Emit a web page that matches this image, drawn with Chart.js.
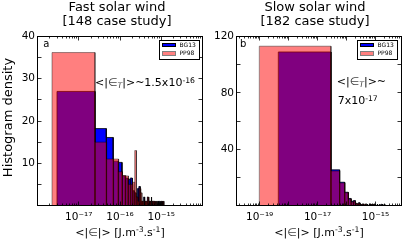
<!DOCTYPE html>
<html><head><meta charset="utf-8">
<script src="https://cdn.jsdelivr.net/npm/chart.js@4.4.1/dist/chart.umd.min.js"></script>
<style>
html,body{margin:0;padding:0;background:#fff;}
body{width:415px;height:240px;position:relative;overflow:hidden;font-family:"DejaVu Sans",sans-serif;color:#000;}
canvas{position:absolute;top:0;}
.t{position:absolute;white-space:nowrap;line-height:1;}
.c{text-align:center;width:240px;}
.sup{font-size:70%;position:relative;top:-0.45em;}
.sub{font-size:70%;position:relative;top:0.25em;font-style:italic;}
.eps{color:#444;}
.leg{position:absolute;width:39px;height:18px;border:1px solid #000;background:#fff;}
.sw{position:absolute;width:12px;height:2.5px;left:1.5px;}
.lt{position:absolute;left:19.5px;font-size:6px;line-height:1;white-space:nowrap;}
</style></head>
<body>
<canvas id="cFast" width="210" height="240" style="left:0px"></canvas>
<canvas id="cSlow" width="205" height="240" style="left:210px"></canvas>

<div class="t c" style="font-size:13px;left:-3px;top:0.2px">Fast solar wind</div>
<div class="t c" style="font-size:13px;left:-3px;top:14px">[148 case study]</div>
<div class="t c" style="font-size:13px;left:195px;top:0.2px">Slow solar wind</div>
<div class="t c" style="font-size:13px;left:195px;top:14px">[182 case study]</div>

<div class="t" style="font-size:13px;line-height:13px;width:200px;text-align:center;left:-93px;top:110.5px;transform:rotate(-90deg);">Histogram density</div>

<div class="t c" style="font-size:11px;left:0px;top:226.7px">&lt;|<span class="eps">∈</span>|&gt; [J.m<span class="sup">-3</span>.s<span class="sup">-1</span>]</div>
<div class="t c" style="font-size:11px;left:199px;top:226.7px">&lt;|<span class="eps">∈</span>|&gt; [J.m<span class="sup">-3</span>.s<span class="sup">-1</span>]</div>

<div class="t" style="font-size:10px;left:43.3px;top:38.8px">a</div>
<div class="t" style="font-size:10px;left:240px;top:38.8px">b</div>

<div class="t" style="font-size:11px;left:95px;top:77.4px">&lt;|<span class="eps">∈<span class="sub">T</span></span>|&gt;~1.5x10<span class="sup">-16</span></div>
<div class="t" style="font-size:11px;left:336.7px;top:76.4px">&lt;|<span class="eps">∈<span class="sub">T</span></span>|&gt;~</div>
<div class="t" style="font-size:11px;left:337.7px;top:95px">7x10<span class="sup">-17</span></div>

<div class="leg" style="left:159px;top:39.5px">
  <div class="sw" style="top:2px;background:#0000ff;border:1px solid #000"></div>
  <div class="lt" style="top:1.4px">BG13</div>
  <div class="sw" style="top:10.5px;background:#ff8080;border:1px solid #808080"></div>
  <div class="lt" style="top:9.9px">PP98</div>
</div>
<div class="leg" style="left:357px;top:39.5px">
  <div class="sw" style="top:2px;background:#0000ff;border:1px solid #000"></div>
  <div class="lt" style="top:1.4px">BG13</div>
  <div class="sw" style="top:10.5px;background:#ff8080;border:1px solid #808080"></div>
  <div class="lt" style="top:9.9px">PP98</div>
</div>

<script>
// ---------------- data ----------------
const seriesNames = ['BG13', 'PP98'];

// Fast solar wind panel
const fastXMin = 1e-18, fastXMax = 1e-14;
const fastXTicks = [1e-17, 1e-16, 1e-15];
const fastYMax = 40, fastYStep = 5;
const fastYLabels = [10, 20, 30, 40];
const fastBG13Start = 2.97e-18, fastBG13Width = 2.18e-17;
const fastBG13 = [27, 18.2, 16.1, 10.5, 10.2, 7, 6.5, 6.2, 6.5, 3.5, 3, 2, 4, 4.5, 1, 1, 0, 2, 1, 0,
                  1, 2, 0, 1, 1, 0, 2, 1, 0, 1, 1, 0, 0, 1, 0, 1, 0, 0, 1, 0,
                  0, 0, 1, 0, 0, 0, 0, 1, 0, 0, 0, 0, 1];
const fastPP98Start = 2.25e-18, fastPP98Width = 2.253e-17;
const fastPP98 = [36.2, 15, 11, 11, 8, 7.1, 7, 5, 5, 5.5, 13, 2, 1, 4, 3, 1, 1, 0, 1, 1,
                  0, 2, 1, 0, 1, 2, 0, 1, 0, 1, 0, 1, 0, 0, 1, 0, 0, 1, 0, 0,
                  1, 0, 0, 0, 0, 0, 1, 0, 0, 0, 0, 1];

// Slow solar wind panel
const slowXMin = Math.pow(10, -19.8), slowXMax = Math.pow(10, -14.1);
const slowXTicks = [1e-19, 1e-17, 1e-15];
const slowYMax = 120, slowYStep = 20;
const slowYLabels = [40, 80, 120];
const slowBG13Start = 4.41e-19, slowBG13Width = 2.866e-17;
const slowBG13 = [109, 25.3, 16.5, 9.4, 5, 3, 3.5, 1.5, 1, 2, 1, 0, 1, 1, 0, 1, 0, 0, 1, 0,
                  0, 1, 1, 0, 0, 1, 0, 0, 0, 1, 0, 0, 0, 0, 1, 0, 0, 0, 0, 0,
                  1, 0, 0, 0, 0, 0, 0, 0, 1, 0, 0, 0, 0, 0, 0, 0, 0, 0, 1, 0,
                  0, 0, 0, 0, 0, 0, 0, 0, 0, 0, 1];
const slowPP98Start = 9.72e-20, slowPP98Width = 2.90e-17;
const slowPP98 = [113.1, 24.5, 16, 9, 4.5, 2.5, 3, 1.5, 1, 1.5, 1, 0.5, 1, 0.5, 0, 1, 0, 0, 1, 0,
                  0, 1, 0, 1, 0, 0, 1, 0, 0, 0, 1, 0, 0, 0, 1, 0, 0, 0, 0, 0,
                  0, 1, 0, 0, 0, 0, 0, 0, 0, 0, 1, 0, 0, 0, 0, 0, 0, 0, 0, 0,
                  0, 0, 0, 0, 0, 0, 0, 0, 0, 0, 0, 0, 0, 0, 1];

// ---------------- helpers ----------------
function histPoints(start, width, heights) {
  const pts = [];
  for (let i = 0; i < heights.length; i++) {
    const a = start + i * width, b = a + width, h = heights[i];
    pts.push({x: a, y: 0}, {x: a, y: h}, {x: b, y: h}, {x: b, y: 0});
  }
  return pts;
}
const supMap = {'-': '\u207B', '0': '\u2070', '1': '\u00B9', '2': '\u00B2', '3': '\u00B3', '4': '\u2074',
                '5': '\u2075', '6': '\u2076', '7': '\u2077', '8': '\u2078', '9': '\u2079'};
function sci(v) {
  const e = Math.round(Math.log10(v));
  return '10' + String(e).split('').map(c => supMap[c]).join('');
}

const frameTicks = {
  id: 'frameTicks',
  afterDraw(chart) {
    const {ctx, chartArea: a, scales: {x, y}} = chart;
    ctx.save();
    ctx.strokeStyle = '#000';
    ctx.lineWidth = 0.8;
    const seg = (x1, y1, x2, y2) => { ctx.beginPath(); ctx.moveTo(x1, y1); ctx.lineTo(x2, y2); ctx.stroke(); };
    y.ticks.forEach(t => {
      const p = Math.round(y.getPixelForValue(t.value) - 0.5) + 0.5;
      if (p < a.top + 1 || p > a.bottom - 1) return;
      seg(a.left, p, a.left + 4, p);
      seg(a.right, p, a.right - 4, p);
    });
    const e0 = Math.floor(Math.log10(x.min)), e1 = Math.ceil(Math.log10(x.max));
    for (let e = e0; e <= e1; e++) {
      for (let m = 1; m <= 9; m++) {
        const v = m * Math.pow(10, e);
        if (v <= x.min || v >= x.max) continue;
        const p = Math.round(x.getPixelForValue(v) - 0.5) + 0.5;
        const L = m === 1 ? 4 : 2;
        seg(p, a.bottom, p, a.bottom - L);
        seg(p, a.top, p, a.top + L);
      }
    }
    ctx.lineWidth = 1;
    ctx.strokeRect(a.left, a.top, a.right - a.left, a.bottom - a.top);
    ctx.restore();
  }
};

function makeChart(id, cfg) {
  const tickFont = {family: 'DejaVu Sans', size: 10.5};
  return new Chart(document.getElementById(id), {
    type: 'line',
    data: {
      datasets: [
        {label: seriesNames[0], data: histPoints(cfg.bgStart, cfg.bgWidth, cfg.bg),
         borderColor: '#000', backgroundColor: '#0000ff', borderWidth: 0.8,
         fill: 'origin', pointRadius: 0, tension: 0, order: 2},
        {label: seriesNames[1], data: histPoints(cfg.ppStart, cfg.ppWidth, cfg.pp),
         borderColor: 'rgba(0,0,0,0.5)', backgroundColor: 'rgba(255,0,0,0.5)', borderWidth: 0.8,
         fill: 'origin', pointRadius: 0, tension: 0, order: 1}
      ]
    },
    options: {
      responsive: false, animation: false, events: [],
      layout: {padding: {top: 36.5, right: cfg.padRight, left: 0, bottom: 0}},
      plugins: {legend: {display: false}, tooltip: {enabled: false}},
      scales: {
        x: {
          type: 'logarithmic', min: cfg.xMin, max: cfg.xMax, bounds: 'data',
          grid: {display: false, drawTicks: false}, border: {display: false},
          afterBuildTicks(s) { s.ticks = cfg.xTicks.map(v => ({value: v})); },
          afterFit(s) { s.height = 34.5; },
          ticks: {autoSkip: false, maxRotation: 0, minRotation: 0, padding: 5, font: tickFont, color: '#000',
                  callback: (v) => sci(v)}
        },
        y: {
          type: 'linear', min: 0, max: cfg.yMax,
          grid: {display: false, drawTicks: false}, border: {display: false},
          afterFit(s) { s.width = cfg.yWidth; },
          ticks: {stepSize: cfg.yStep, autoSkip: false, padding: 2.5, font: tickFont, color: '#000',
                  callback: (v) => cfg.yLabels.includes(v) ? String(v) : ''}
        }
      }
    },
    plugins: [frameTicks]
  });
}

makeChart('cFast', {
  xMin: fastXMin, xMax: fastXMax, xTicks: fastXTicks, yMax: fastYMax, yStep: fastYStep, yLabels: fastYLabels,
  bgStart: fastBG13Start, bgWidth: fastBG13Width, bg: fastBG13,
  ppStart: fastPP98Start, ppWidth: fastPP98Width, pp: fastPP98,
  yWidth: 37.5, padRight: 7.5
});
makeChart('cSlow', {
  xMin: slowXMin, xMax: slowXMax, xTicks: slowXTicks, yMax: slowYMax, yStep: slowYStep, yLabels: slowYLabels,
  bgStart: slowBG13Start, bgWidth: slowBG13Width, bg: slowBG13,
  ppStart: slowPP98Start, ppWidth: slowPP98Width, pp: slowPP98,
  yWidth: 26.5, padRight: 13.5
});
</script>
</body></html>
